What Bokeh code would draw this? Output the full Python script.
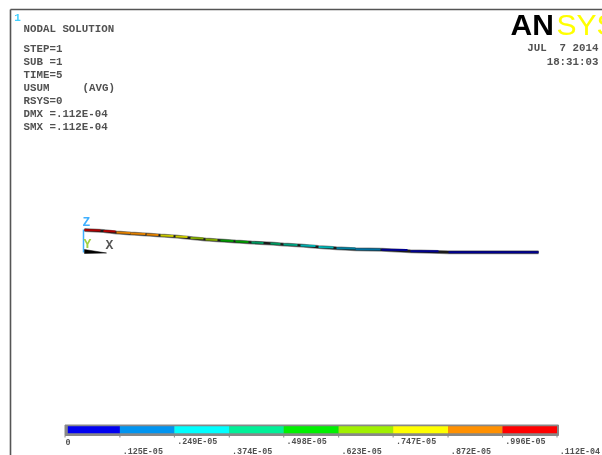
from bokeh.plotting import figure
from bokeh.embed import file_html
from bokeh.resources import INLINE
from bokeh.core.properties import value
from bokeh.models import Range1d

# contour legend: band edges (USUM) and colours
legend_levels = [0, .125e-5, .249e-5, .374e-5, .498e-5, .623e-5, .747e-5, .872e-5, .996e-5, .112e-4]
legend_colors = ["#0000f0", "#0094f0", "#00ffff", "#00f098", "#00f000", "#a0f000", "#ffff00", "#ff9000", "#ff0000"]
legend_upper = [".249E-05", ".498E-05", ".747E-05", ".996E-05"]
legend_lower = [".125E-05", ".374E-05", ".623E-05", ".872E-05", ".112E-04"]

# beam: element start / end along the length and deflected height (picture units)
beam_x0 = [84, 103, 116, 130, 146, 160, 175, 190, 205, 220, 235, 251, 270, 283, 300, 318, 336, 355, 381, 410, 448]
beam_x1 = [100, 115, 130, 145, 158, 173, 187, 203, 217, 233, 248, 263, 280, 297, 315, 333, 355, 380, 407, 438, 538]
beam_y0 = [229.5, 230.5, 232, 233, 234, 235, 236, 237.5, 239, 240, 241, 242, 243, 244, 245, 246.5, 247.7, 248.7, 249.3, 250.7, 251.8]
beam_y1 = [230, 231, 232.5, 233.5, 234.5, 235.5, 236.5, 238, 239.5, 240.5, 241.5, 242.5, 243.5, 244.5, 245.5, 247, 248, 249, 249.5, 250.7, 251.8]
beam_colors = ["#b00000", "#b00000", "#e08000", "#e08000", "#e08000", "#c8c800", "#c8c800",
               "#80a800", "#80a800", "#009800", "#009800", "#009860", "#009860", "#00a080",
               "#00b0b0", "#00b0b0", "#0080a0", "#0070a0", "#000090", "#000090", "#000090"]

header = ["NODAL SOLUTION", "STEP=1", "SUB =1", "TIME=5", "USUM", "RSYS=0", "DMX =.112E-04", "SMX =.112E-04"]
header_y = [28, 48, 61, 74, 87, 100, 113, 126]

W, H = 602, 455
p = figure(width=W, height=H, output_backend="svg", toolbar_location=None,
           x_range=Range1d(0, W), y_range=Range1d(H, 0), min_border=0,
           styles={"position": "fixed", "left": "0px", "top": "0px"})
p.axis.visible = False
p.grid.visible = False
p.outline_line_color = None
p.background_fill_color = "white"

MONO = value("Liberation Mono")
INK = "#333333"

# frame
p.line([10, 10], [455, 9], line_color="#555555", line_width=1.6)
p.line([10, 602], [9, 9], line_color="#555555", line_width=1.6)

# text block
p.text([17], [17], text=["1"], text_color="#40d0ff", text_font=MONO, text_font_size="11px",
       text_font_style="bold", text_align="center", text_baseline="middle")
p.text([23] * len(header), header_y, text=header, text_color=INK, text_font=MONO,
       text_font_size="10.8px", text_font_style="bold", text_baseline="middle", text_alpha=0.85)
p.text([82], [87], text=["(AVG)"], text_color=INK, text_font=MONO,
       text_font_size="10.8px", text_font_style="bold", text_baseline="middle", text_alpha=0.85)
p.text([598, 598], [47, 61], text=["JUL\u00a0\u00a07 2014", "18:31:03"], text_color=INK, text_font=MONO,
       text_font_size="10.8px", text_font_style="bold", text_align="right", text_baseline="middle", text_alpha=0.85)

# logo
p.text([510], [24], text=["AN"], text_color="#000000", text_font=value("Liberation Sans"),
       text_font_size="30px", text_font_style="bold", text_baseline="middle")
p.text([556], [24], text=["SYS"], text_color="#ffff00", text_font=value("Liberation Sans"),
       text_font_size="30px", text_baseline="middle")

# triad
p.line([83, 83], [229, 252], line_color="#40b0ff", line_width=1.5)
p.patch([84, 84, 106], [249, 253, 252.5], fill_color="#000000", line_color="#000000", line_width=0.5)
p.text([86], [222], text=["Z"], text_color="#40b0ff", text_font=MONO, text_font_size="13px",
       text_font_style="bold", text_align="center", text_baseline="middle")
p.text([87], [244], text=["Y"], text_color="#a0d040", text_font=MONO, text_font_size="13px",
       text_font_style="bold", text_align="center", text_baseline="middle")
p.text([109], [245], text=["X"], text_color="#555555", text_font=MONO, text_font_size="13px",
       text_font_style="bold", text_align="center", text_baseline="middle")

# beam: dark outline then contour colours
p.line(beam_x0 + [beam_x1[-1]], beam_y0 + [beam_y1[-1]], line_color="#999999", line_width=4)
p.line(beam_x0 + [beam_x1[-1]], beam_y0 + [beam_y1[-1]], line_color="#1a1a1a", line_width=2.6)
p.segment(beam_x0, beam_y0, beam_x1, beam_y1, line_color=beam_colors, line_width=2)

# contour legend
x0, x1 = 64.5, 556.5
sx = lambda v: x0 + (x1 - x0) * v / legend_levels[-1]
edges = [sx(v) for v in legend_levels]
p.quad(left=[64.5], right=[558], top=[424.5], bottom=[435], fill_color="#888888", line_color="#888888", line_width=1)
p.quad(left=edges[:-1], right=edges[1:], top=[425.8] * 9, bottom=[432.8] * 9,
       fill_color=legend_colors, line_color=None)
p.quad(left=[64.5], right=[67.3], top=[424.5], bottom=[435], fill_color="#888888", line_color=None)
p.segment(edges, [435] * 10, edges, [437] * 10, line_color="#888888", line_width=1)

p.text([65], [441], text=["0"], text_color=INK, text_font=MONO, text_font_size="8.4px",
       text_font_style="bold", text_baseline="middle", text_alpha=0.85)
p.text([e + 2.8 for e in edges[2::2]], [441] * 4, text=legend_upper, text_color=INK, text_font=MONO,
       text_font_size="8.4px", text_font_style="bold", text_baseline="middle", text_alpha=0.85)
p.text([e + 2.8 for e in edges[1::2]], [451] * 5, text=legend_lower, text_color=INK, text_font=MONO,
       text_font_size="8.4px", text_font_style="bold", text_baseline="middle", text_alpha=0.85)

open("out.html", "w").write(file_html(p, INLINE))
